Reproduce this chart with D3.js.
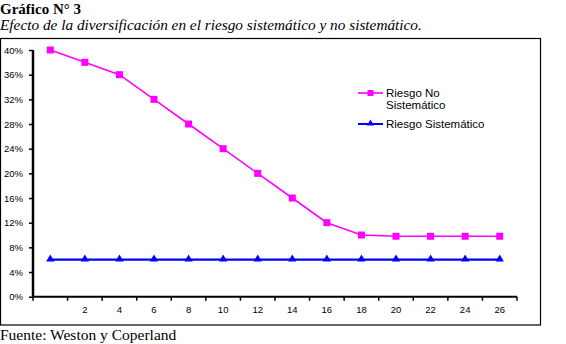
<!DOCTYPE html>
<html>
<head>
<meta charset="utf-8">
<script src="https://cdn.jsdelivr.net/npm/d3@7"></script>
<style>
  html, body { margin: 0; padding: 0; background: #fff; }
  svg { display: block; }
</style>
</head>
<body>
<svg id="chart" width="566" height="344"></svg>
<script>
// Number of securities in the portfolio (first category has no label)
const categories = ["", "2", "4", "6", "8", "10", "12", "14", "16", "18", "20", "22", "24", "26"];
// Unsystematic (diversifiable) risk, %
const riesgoNoSistematico = [40, 38, 36, 32, 28, 24, 20, 16, 12, 10, 9.8, 9.8, 9.8, 9.8];
// Systematic (market) risk, %
const riesgoSistematico = [6, 6, 6, 6, 6, 6, 6, 6, 6, 6, 6, 6, 6, 6];
const yTicks = [0, 4, 8, 12, 16, 20, 24, 28, 32, 36, 40];

const svg = d3.select("#chart");

// Headings
svg.append("text").attr("x", 0).attr("y", 14)
  .attr("font-family", "Liberation Serif").attr("font-weight", "bold").attr("font-size", 15)
  .text("Gráfico N° 3");
svg.append("text").attr("x", 0).attr("y", 30)
  .attr("font-family", "Liberation Serif").attr("font-style", "italic").attr("font-size", 15.3)
  .text("Efecto de la diversificación en el riesgo sistemático y no sistemático.");

// Chart frame
svg.append("rect").attr("x", 0.5).attr("y", 38.5).attr("width", 540).attr("height", 286.5)
  .attr("fill", "none").attr("stroke", "#000").attr("stroke-width", 1.2);

// Source
svg.append("text").attr("x", 0).attr("y", 340)
  .attr("font-family", "Liberation Serif").attr("font-size", 15.5)
  .text("Fuente: Weston y Coperland");

const x = d3.scaleBand().domain(d3.range(categories.length)).range([33, 517]);
const y = d3.scaleLinear().domain([0, 40]).range([296.7, 50]);
const cx = i => x(i) + x.bandwidth() / 2;

// Y axis
const yAxis = svg.append("g").attr("transform", "translate(33,0)")
  .call(d3.axisLeft(y).tickValues(yTicks).tickSize(4).tickFormat(d => d + "%"));
// X axis: tick marks sit between categories
const xAxis = svg.append("g").attr("transform", "translate(0,296.7)");
xAxis.append("line").attr("x1", 33).attr("x2", 517).attr("stroke", "#000").attr("stroke-width", 2);
xAxis.selectAll("line.tk").data(d3.range(categories.length + 1)).join("line")
  .attr("class", "tk")
  .attr("x1", i => 33 + i * x.step()).attr("x2", i => 33 + i * x.step())
  .attr("y1", 0).attr("y2", 4).attr("stroke", "#000").attr("stroke-width", 1.5);
xAxis.selectAll("text").data(categories).join("text")
  .attr("x", (d, i) => cx(i)).attr("y", 16).attr("text-anchor", "middle")
  .attr("font-family", "Liberation Sans").attr("font-size", 9.5).text(d => d);

yAxis.select(".domain").attr("stroke-width", 2.5).attr("d", "M0,296.7V50");
yAxis.selectAll(".tick line").attr("stroke-width", 1.5);
yAxis.selectAll(".tick text").attr("font-family", "Liberation Sans").attr("font-size", 9.5)
  .attr("x", -10).attr("fill", "#000");

const line = d3.line().x((d, i) => cx(i)).y(d => y(d));

// Unsystematic risk series
svg.append("path").datum(riesgoNoSistematico).attr("d", line)
  .attr("fill", "none").attr("stroke", "#ff00ff").attr("stroke-width", 1.6);
svg.selectAll("rect.sq").data(riesgoNoSistematico).join("rect").attr("class", "sq")
  .attr("x", (d, i) => cx(i) - 3.5).attr("y", d => y(d) - 3.5)
  .attr("width", 7).attr("height", 7).attr("fill", "#ff00ff");

// Systematic risk series
svg.append("path").datum(riesgoSistematico).attr("d", line)
  .attr("fill", "none").attr("stroke", "#0000ff").attr("stroke-width", 2.2);
const tri = d3.symbol().type(d3.symbolTriangle).size(30);
svg.selectAll("path.tr").data(riesgoSistematico).join("path").attr("class", "tr")
  .attr("transform", (d, i) => `translate(${cx(i)},${y(d) - 0.5})`)
  .attr("d", tri).attr("fill", "#0000ff");

// Legend
const lg = svg.append("g").attr("font-family", "Liberation Sans").attr("font-size", 11.5);
lg.append("line").attr("x1", 358).attr("x2", 383).attr("y1", 93).attr("y2", 93)
  .attr("stroke", "#ff00ff").attr("stroke-width", 1.6);
lg.append("rect").attr("x", 367.5).attr("y", 90).attr("width", 6).attr("height", 6).attr("fill", "#ff00ff");
lg.append("text").attr("x", 386).attr("y", 97).text("Riesgo No");
lg.append("text").attr("x", 386).attr("y", 109).text("Sistemático");
lg.append("line").attr("x1", 358).attr("x2", 383).attr("y1", 124).attr("y2", 124)
  .attr("stroke", "#0000ff").attr("stroke-width", 2);
lg.append("path").attr("transform", "translate(370.5,123.5)")
  .attr("d", d3.symbol().type(d3.symbolTriangle).size(22)()).attr("fill", "#0000ff");
lg.append("text").attr("x", 386).attr("y", 128).text("Riesgo Sistemático");
</script>
</body>
</html>
